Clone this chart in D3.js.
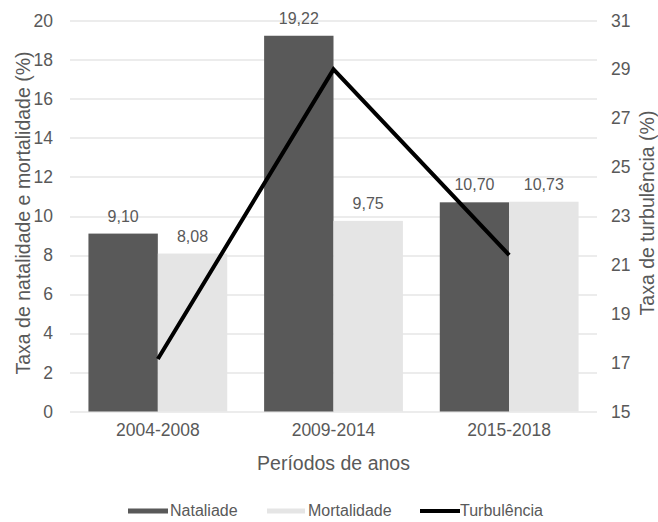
<!DOCTYPE html>
<html>
<head>
<meta charset="utf-8">
<script src="https://cdn.jsdelivr.net/npm/d3@7"></script>
<style>
  body { margin: 0; background: #fff; }
  text { font-family: "Liberation Sans", Arial, sans-serif; fill: #595959; }
</style>
</head>
<body>
<svg id="chart" width="658" height="522"></svg>
<script>
// data
var periodos = ['2004-2008', '2009-2014', '2015-2018'];
var natalidade = [9.10, 19.22, 10.70];
var mortalidade = [8.08, 9.75, 10.73];
var turbulencia = [17.15, 29.0, 21.4];
var leftTicks = [0, 2, 4, 6, 8, 10, 12, 14, 16, 18, 20];
var rightTicks = [15, 17, 19, 21, 23, 25, 27, 29, 31];

var svgWidth = 658, svgHeight = 522;
var margin = {left: 70, right: 61, top: 20.5, bottom: 110.5};
var width = svgWidth - margin.left - margin.right;
var height = svgHeight - margin.top - margin.bottom;

var svg = d3.select('#chart');
var g = svg.append('g')
  .attr('transform', 'translate(' + margin.left + ',' + margin.top + ')');

var x = d3.scaleBand().domain(periodos).range([0, width]).paddingInner(0.21).paddingOuter(0.105);
var sub = d3.scaleBand().domain(['nat', 'mor']).range([0, x.bandwidth()]);
var yL = d3.scaleLinear().domain([0, 20]).range([height, 0]);
var yR = d3.scaleLinear().domain([15, 31]).range([height, 0]);

// gridlines
g.append('g').selectAll('line').data(leftTicks).enter().append('line')
  .attr('x1', 0).attr('x2', width)
  .attr('y1', d => Math.round(yL(d)) + 0.5).attr('y2', d => Math.round(yL(d)) + 0.5)
  .attr('stroke', '#d9d9d9').attr('stroke-width', 1);

// left axis
var axL = g.append('g').call(d3.axisLeft(yL).tickValues(leftTicks).tickSize(0).tickPadding(17));
axL.select('.domain').remove();
axL.selectAll('text').style('font-size', '17.5px').attr('fill', '#595959');

// right axis
var axR = g.append('g').attr('transform', 'translate(' + width + ',0)')
  .call(d3.axisRight(yR).tickValues(rightTicks).tickSize(0).tickPadding(14));
axR.select('.domain').remove();
axR.selectAll('text').style('font-size', '17.5px').attr('fill', '#595959');

// bars
var groups = g.selectAll('.grp').data(periodos).enter().append('g')
  .attr('transform', d => 'translate(' + x(d) + ',0)');

groups.append('rect')
  .attr('x', sub('nat')).attr('width', sub.bandwidth())
  .attr('y', (d, i) => yL(natalidade[i])).attr('height', (d, i) => height - yL(natalidade[i]))
  .attr('fill', '#595959');
groups.append('rect')
  .attr('x', sub('mor')).attr('width', sub.bandwidth())
  .attr('y', (d, i) => yL(mortalidade[i])).attr('height', (d, i) => height - yL(mortalidade[i]))
  .attr('fill', '#e5e5e5');

var fmt = v => v.toFixed(2).replace('.', ',');
groups.append('text')
  .attr('x', sub('nat') + sub.bandwidth() / 2).attr('y', (d, i) => yL(natalidade[i]) - 12)
  .attr('text-anchor', 'middle').style('font-size', '16px')
  .text((d, i) => fmt(natalidade[i]));
groups.append('text')
  .attr('x', sub('mor') + sub.bandwidth() / 2).attr('y', (d, i) => yL(mortalidade[i]) - 12)
  .attr('text-anchor', 'middle').style('font-size', '16px')
  .text((d, i) => fmt(mortalidade[i]));

// turbulencia line
var line = d3.line()
  .x((d, i) => x(periodos[i]) + x.bandwidth() / 2)
  .y(d => yR(d));
g.append('path').datum(turbulencia)
  .attr('d', line).attr('fill', 'none')
  .attr('stroke', '#000').attr('stroke-width', 4);

// x axis labels
var axX = g.append('g').attr('transform', 'translate(0,' + height + ')')
  .call(d3.axisBottom(x).tickSize(0).tickPadding(12));
axX.select('.domain').remove();
axX.selectAll('text').style('font-size', '17.5px').attr('fill', '#595959');

// axis titles
svg.append('text').attr('x', margin.left + width / 2).attr('y', 470)
  .attr('text-anchor', 'middle').style('font-size', '19.5px').text('Períodos de anos');
svg.append('text').attr('transform', 'translate(30,213) rotate(-90)')
  .attr('text-anchor', 'middle').style('font-size', '19.5px').text('Taxa de natalidade e mortalidade (%)');
svg.append('text').attr('transform', 'translate(654,213) rotate(-90)')
  .attr('text-anchor', 'middle').style('font-size', '19.5px').text('Taxa de turbulência (%)');

// legend
var leg = svg.append('g').attr('transform', 'translate(0,511)');
leg.append('rect').attr('x', 128).attr('y', -2.5).attr('width', 40).attr('height', 5).attr('fill', '#595959');
leg.append('text').attr('x', 170).attr('y', 5).style('font-size', '16px').text('Nataliade');
leg.append('rect').attr('x', 267).attr('y', -2.5).attr('width', 38).attr('height', 5).attr('fill', '#e5e5e5');
leg.append('text').attr('x', 308).attr('y', 5).style('font-size', '16px').text('Mortalidade');
leg.append('line').attr('x1', 420).attr('x2', 460).attr('y1', 0).attr('y2', 0)
  .attr('stroke', '#000').attr('stroke-width', 4);
leg.append('text').attr('x', 460).attr('y', 5).style('font-size', '16px').text('Turbulência');
</script>
</body>
</html>
